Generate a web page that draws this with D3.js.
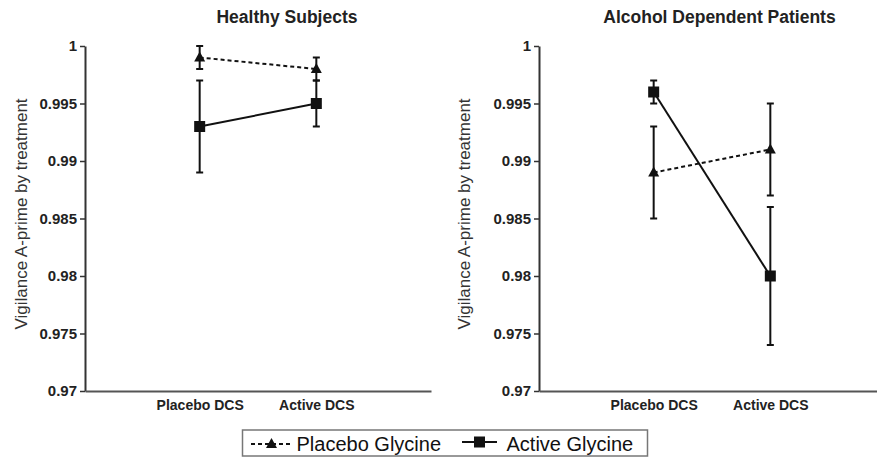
<!DOCTYPE html>
<html>
<head>
<meta charset="utf-8">
<script src="https://cdn.jsdelivr.net/npm/d3@7"></script>
<style>
  html, body { margin: 0; padding: 0; background: #fff; }
  svg { display: block; font-family: Arial, "Liberation Sans", sans-serif; }
</style>
</head>
<body>
<svg id="chart" width="877" height="458"></svg>
<script>
// Vigilance A-prime by DCS treatment, split by glycine group
const categories = ["Placebo DCS", "Active DCS"];
const yTicks = [0.97, 0.975, 0.98, 0.985, 0.99, 0.995, 1];
const seriesNames = ["Placebo Glycine", "Active Glycine"];

// Healthy subjects: mean, lower and upper error limits
const healthyPlaceboGly = [0.999, 0.998];
const healthyPlaceboGlyLo = [0.998, 0.997];
const healthyPlaceboGlyHi = [1.000, 0.999];
const healthyActiveGly = [0.993, 0.995];
const healthyActiveGlyLo = [0.989, 0.993];
const healthyActiveGlyHi = [0.997, 0.997];

// Alcohol dependent patients
const patientPlaceboGly = [0.989, 0.991];
const patientPlaceboGlyLo = [0.985, 0.987];
const patientPlaceboGlyHi = [0.993, 0.995];
const patientActiveGly = [0.996, 0.980];
const patientActiveGlyLo = [0.995, 0.974];
const patientActiveGlyHi = [0.997, 0.986];

const panels = [
  { title: "Healthy Subjects", left: 85, titleX: 287, labelX: 21,
    series: [
      { name: seriesNames[0], mean: healthyPlaceboGly, lo: healthyPlaceboGlyLo, hi: healthyPlaceboGlyHi, shape: "triangle" },
      { name: seriesNames[1], mean: healthyActiveGly, lo: healthyActiveGlyLo, hi: healthyActiveGlyHi, shape: "square" }
    ] },
  { title: "Alcohol Dependent Patients", left: 539, titleX: 719.5, labelX: 464,
    series: [
      { name: seriesNames[0], mean: patientPlaceboGly, lo: patientPlaceboGlyLo, hi: patientPlaceboGlyHi, shape: "triangle" },
      { name: seriesNames[1], mean: patientActiveGly, lo: patientActiveGlyLo, hi: patientActiveGlyHi, shape: "square" }
    ] }
];

const svg = d3.select("#chart");
const plotTop = 46, plotBottom = 391, plotW = 346;
const ink = "#111";
const fmt = d => String(+d.toFixed(3));

const y = d3.scaleLinear().domain([0.97, 1]).range([plotBottom, plotTop]);

function drawMarker(g, shape, cx, cy, size) {
  const h = size / 2;
  if (shape === "square") {
    g.append("rect").attr("x", cx - h).attr("y", cy - h)
      .attr("width", size).attr("height", size).attr("fill", ink);
  } else {
    g.append("path")
      .attr("d", `M${cx},${cy - h - 0.5}L${cx + h},${cy + h - 1.5}L${cx - h},${cy + h - 1.5}Z`)
      .attr("fill", ink);
  }
}

panels.forEach(p => {
  const g = svg.append("g");
  const x = d3.scalePoint().domain(categories)
    .range([p.left, p.left + plotW]).padding(0.983);

  // title
  g.append("text").attr("x", p.titleX).attr("y", 23)
    .attr("text-anchor", "middle").attr("font-weight", "bold")
    .attr("font-size", 17.5).attr("fill", "#222").text(p.title);

  // y axis
  const ya = g.append("g").attr("transform", `translate(${p.left},0)`)
    .call(d3.axisLeft(y).tickValues(yTicks).tickFormat(fmt).tickSize(5).tickSizeOuter(0).tickPadding(3));
  ya.select(".domain").attr("stroke", "#333").attr("stroke-width", 2);
  ya.selectAll(".tick line").attr("stroke", "#333").attr("stroke-width", 1.5);
  ya.selectAll(".tick text").attr("font-size", 15).attr("font-weight", "bold")
    .attr("fill", "#222").attr("font-family", "Arial, 'Liberation Sans', sans-serif");

  // x axis
  const xa = g.append("g").attr("transform", `translate(0,${plotBottom})`)
    .call(d3.axisBottom(x).tickSize(0).tickSizeOuter(0).tickPadding(9));
  xa.select(".domain").attr("stroke", "#555").attr("stroke-width", 2);
  xa.selectAll(".tick text").attr("font-size", 14).attr("font-weight", "bold")
    .attr("fill", "#222").attr("font-family", "Arial, 'Liberation Sans', sans-serif");

  // y axis title
  g.append("text")
    .attr("transform", `translate(${p.labelX},214) rotate(-90)`)
    .attr("text-anchor", "middle").attr("dy", "0.35em")
    .attr("font-size", 17).attr("fill", "#333")
    .text("Vigilance A-prime by treatment");

  // error bars
  p.series.forEach(s => {
    categories.forEach((c, i) => {
      const cx = x(c);
      g.append("line").attr("x1", cx).attr("x2", cx)
        .attr("y1", y(s.lo[i])).attr("y2", y(s.hi[i]))
        .attr("stroke", ink).attr("stroke-width", 2);
      [s.lo[i], s.hi[i]].forEach(v => {
        g.append("line").attr("x1", cx - 3.5).attr("x2", cx + 3.5)
          .attr("y1", y(v)).attr("y2", y(v))
          .attr("stroke", ink).attr("stroke-width", 2);
      });
    });
  });

  // connecting lines
  const line = d3.line().x((d, i) => x(categories[i])).y(d => y(d));
  p.series.forEach(s => {
    g.append("path").attr("d", line(s.mean)).attr("fill", "none")
      .attr("stroke", ink).attr("stroke-width", 2)
      .attr("stroke-dasharray", s.shape === "triangle" ? "4,3" : null);
  });

  // markers
  p.series.forEach(s => {
    categories.forEach((c, i) => drawMarker(g, s.shape, x(c), y(s.mean[i]), 11));
  });
});

// legend
const lg = svg.append("g");
lg.append("rect").attr("x", 242.5).attr("y", 430).attr("width", 405).attr("height", 26)
  .attr("fill", "#fff").attr("stroke", "#777").attr("stroke-width", 1.5);
const legendItems = [
  { name: seriesNames[0], shape: "triangle", x0: 251, x1: 292, cy: 444, tx: 296.5 },
  { name: seriesNames[1], shape: "square", x0: 462, x1: 497, cy: 442, tx: 506.5 }
];
legendItems.forEach(d => {
  lg.append("line").attr("x1", d.x0).attr("x2", d.x1).attr("y1", d.cy).attr("y2", d.cy)
    .attr("stroke", ink).attr("stroke-width", 2)
    .attr("stroke-dasharray", d.shape === "triangle" ? "4,3" : null);
  drawMarker(lg, d.shape, (d.x0 + d.x1) / 2, d.cy, 11);
  lg.append("text").attr("x", d.tx).attr("y", 450.5)
    .attr("font-size", 20).attr("fill", "#111").text(d.name);
});
</script>
</body>
</html>
